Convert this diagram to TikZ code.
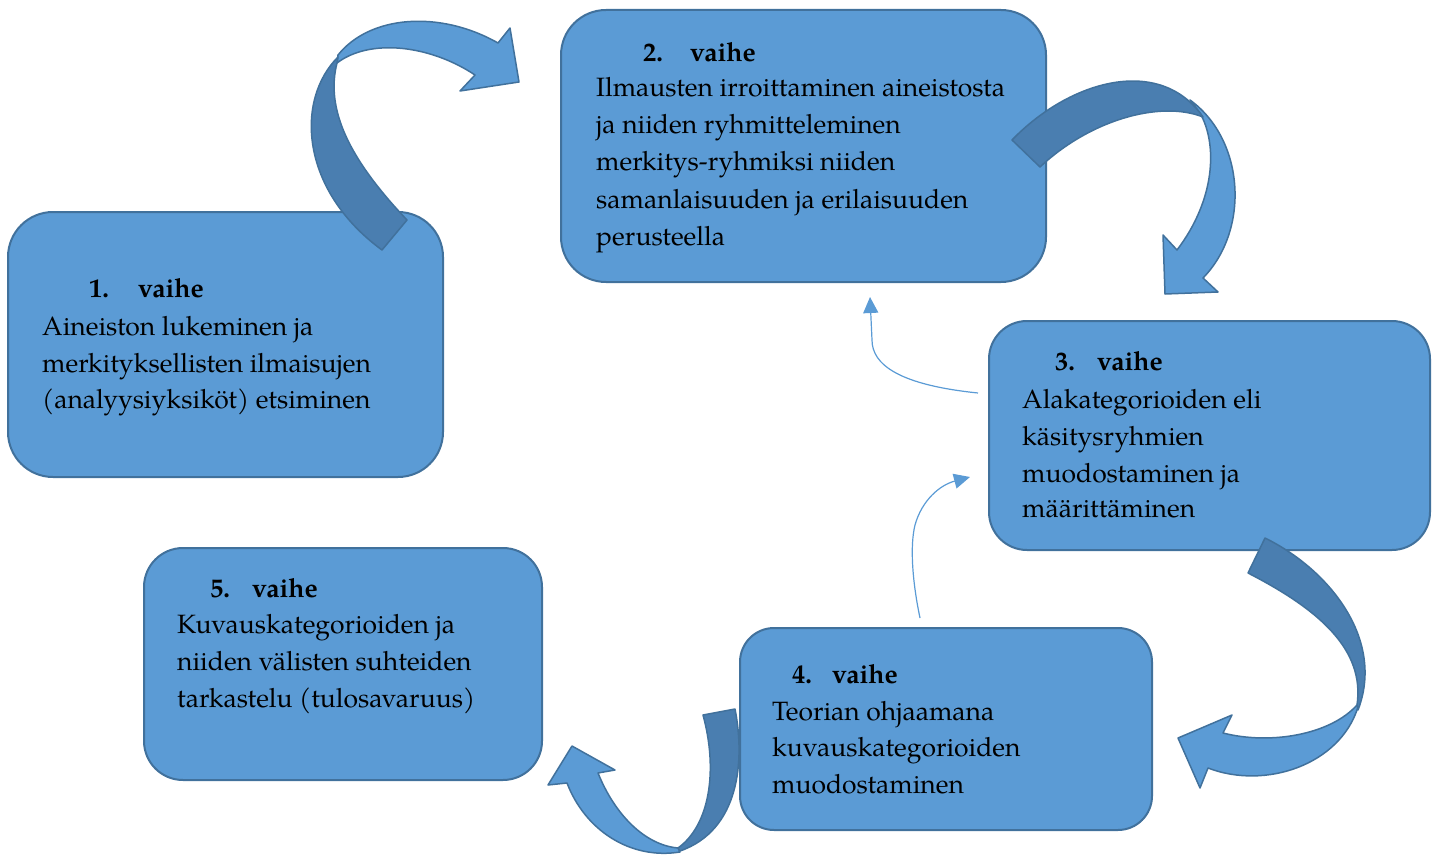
\documentclass[tikz,border=0pt]{standalone}
\usepackage{fontspec}
\setmainfont{TeX Gyre Pagella}
\usetikzlibrary{arrows.meta}
\definecolor{boxblue}{HTML}{5B9BD5}
\definecolor{edgeblue}{HTML}{41719C}
\definecolor{darkblue}{HTML}{4A7EB0}
\begin{document}
\begin{tikzpicture}[x=1pt,y=-1pt,
  stepbox/.style={draw=edgeblue, fill=boxblue, line width=2pt, inner sep=0pt},
  txt/.style={anchor=base west, inner sep=0pt, font=\fontsize{26.5}{32}\selectfont},
  hd/.style={anchor=base west, inner sep=0pt, font=\fontsize{26.5}{32}\selectfont\bfseries},
  thinarrow/.style={draw=boxblue, line width=1.2pt, -{Triangle[length=16pt,width=15pt]}},
  lightpart/.style={fill=boxblue, draw=edgeblue, line width=1.5pt, line join=round},
  darkpart/.style={fill=darkblue, draw=edgeblue, line width=1.5pt, line join=round}]
\useasboundingbox (0,0) rectangle (1435,856);

% boxes
\node[stepbox, rounded corners=45pt, minimum width=435pt, minimum height=265pt] (b1) at (225.5,344.5) {};
\node[stepbox, rounded corners=45pt, minimum width=485pt, minimum height=272pt] (b2) at (803.5,146) {};
\node[stepbox, rounded corners=38pt, minimum width=441pt, minimum height=229pt] (b3) at (1209.5,435.5) {};
\node[stepbox, rounded corners=34pt, minimum width=412pt, minimum height=202pt] (b4) at (946,729) {};
\node[stepbox, rounded corners=39pt, minimum width=398pt, minimum height=232pt] (b5) at (343,664) {};

% texts box 1
\node[hd] (h1n) at (89,297) {1.};
\node[hd] (h1v) at (138,297) {vaihe};
\node[txt] (t1a) at (42,335) {Aineiston lukeminen ja};
\node[txt] (t1b) at (42,372) {merkityksellisten ilmaisujen};
\node[txt] (t1c) at (42,408) {(analyysiyksiköt) etsiminen};

% texts box 2
\node[hd] (h2n) at (643,62) {2.};
\node[hd] (h2v) at (690,62) {vaihe};
\node[txt] (t2a) at (596,97) {Ilmausten irroittaminen aineistosta};
\node[txt] (t2b) at (596,134) {ja niiden ryhmitteleminen};
\node[txt] (t2c) at (596,171) {merkitys-ryhmiksi niiden};
\node[txt] (t2d) at (596,208) {samanlaisuuden ja erilaisuuden};
\node[txt] (t2e) at (596,245) {perusteella};

% texts box 3
\node[hd] (h3n) at (1055,370) {3.};
\node[hd] (h3v) at (1097,370) {vaihe};
\node[txt] (t3a) at (1022,408) {Alakategorioiden eli};
\node[txt] (t3b) at (1022,445) {käsitysryhmien};
\node[txt] (t3c) at (1022,482) {muodostaminen ja};
\node[txt] (t3d) at (1022,517) {määrittäminen};

% texts box 4
\node[hd] (h4n) at (792,683) {4.};
\node[hd] (h4v) at (832,683) {vaihe};
\node[txt] (t4a) at (772,720) {Teorian ohjaamana};
\node[txt] (t4b) at (772,756) {kuvauskategorioiden};
\node[txt] (t4c) at (772,793) {muodostaminen};

% texts box 5
\node[hd] (h5n) at (210,597) {5.};
\node[hd] (h5v) at (252,597) {vaihe};
\node[txt] (t5a) at (177,633) {Kuvauskategorioiden ja};
\node[txt] (t5b) at (177,670) {niiden välisten suhteiden};
\node[txt] (t5c) at (177,707) {tarkastelu (tulosavaruus)};

% ribbon arrow A: box 1 -> box 2
\path[lightpart] (338,55) .. controls (370,15) and (440,10) .. (498,43)
  -- (510,28) -- (519,82) -- (460,91) -- (475,75)
  .. controls (430,45) and (370,38) .. (337,63) -- cycle;
\path[darkpart] (338,57) .. controls (295,100) and (300,190) .. (382,250)
  -- (407,220) .. controls (350,160) and (325,110) .. (337,63) -- cycle;

% ribbon arrow B: box 2 -> box 3
\path[lightpart] (1190,100) .. controls (1245,140) and (1250,230) .. (1203,278)
  -- (1218,292) -- (1165,294) -- (1163,235) -- (1177,250)
  .. controls (1215,200) and (1218,145) .. (1200,113) -- cycle;
\path[darkpart] (1012,140) .. controls (1070,80) and (1160,55) .. (1203,117)
  .. controls (1160,100) and (1090,120) .. (1040,167) -- cycle;

% ribbon arrow C: box 3 -> box 4
\path[lightpart] (1358,707) .. controls (1340,765) and (1265,790) .. (1208,768)
  -- (1200,788) -- (1178,738) -- (1232,715) -- (1223,733)
  .. controls (1270,745) and (1330,735) .. (1357,705) -- cycle;
\path[darkpart] (1265,538) .. controls (1330,570) and (1385,640) .. (1358,710)
  -- (1357,705) .. controls (1365,650) and (1320,610) .. (1248,573) -- cycle;

% ribbon arrow D: box 4 -> box 5
\path[lightpart] (680,852) .. controls (630,860) and (585,830) .. (567,783)
  -- (548,785) -- (572,746) -- (615,770) -- (598,773)
  .. controls (615,815) and (645,845) .. (678,848) -- cycle;
\path[darkpart] (735,709) .. controls (745,760) and (740,830) .. (680,851)
  -- (678,848) .. controls (710,825) and (718,770) .. (703,715) -- cycle;

% thin arrows
\coordinate (e1) at (978,393);
\coordinate (e2) at (870,297);
\draw[thinarrow] (e1) .. controls (900,385) and (872,365) .. (872,340) -- (e2);
\coordinate (f1) at (920,618);
\coordinate (f2) at (970,477);
\draw[thinarrow] (f1) .. controls (912,580) and (910,545) .. (915,525) .. controls (922,500) and (940,485) .. (f2);
\end{tikzpicture}
\end{document}
